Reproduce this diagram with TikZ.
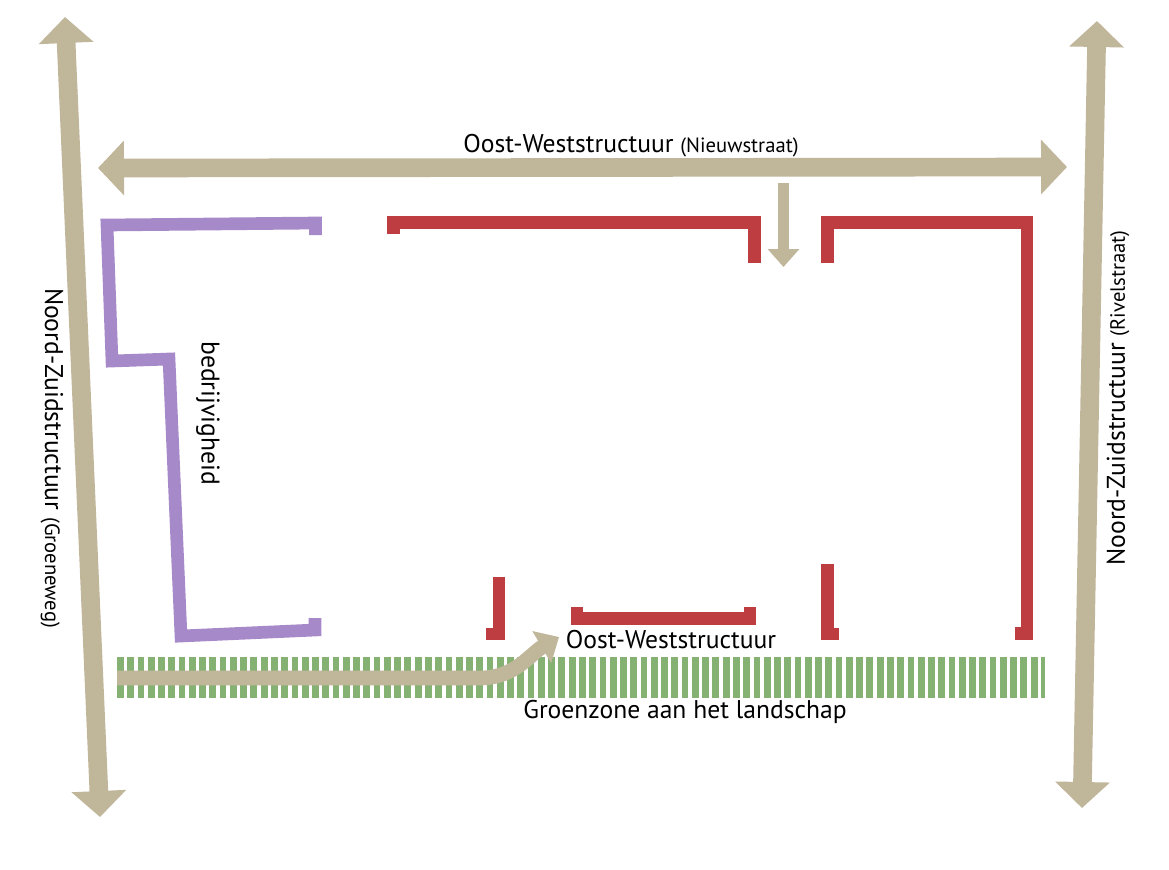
\documentclass[tikz,border=0pt]{standalone}
\usepackage{fontspec}
\setmainfont{PT Sans}
\usetikzlibrary{arrows.meta}
\definecolor{clrweg}{RGB}{192,182,154}
\definecolor{clrwand}{RGB}{190,61,64}
\definecolor{clrbedrijf}{RGB}{166,137,200}
\definecolor{clrgroen}{RGB}{133,177,115}
\newcommand{\paren}[1]{{\fontsize{15.5}{17}\selectfont #1}}

\begin{document}
\begin{tikzpicture}[x=0.75pt,y=0.75pt,yscale=-1,xscale=1,
  hoofdweg/.style={draw=clrweg, line width=14pt, {Triangle[width=40pt,length=19.5pt]}-{Triangle[width=40pt,length=19.5pt]}},
  zijweg/.style={draw=clrweg, line width=8.25pt, -{Triangle[width=23pt,length=13.5pt]}},
  wand/.style={draw=clrwand, line width=9.5pt, miter limit=4},
  bedrijf/.style={draw=clrbedrijf, line width=9.5pt},
  lbl/.style={font=\fontsize{19.2}{21}\selectfont, inner sep=0.75pt}]
\useasboundingbox (0,0) rectangle (1169,869);

%Shape: Green zone
\draw[clrgroen, line width=30.75pt, dash pattern=on 5.1pt off 2.6pt] (117,677.5) -- (1045,677.5);

%Shape: Main roads
\coordinate (nzw-n) at (65,17);
\coordinate (nzw-z) at (100,817);
\coordinate (nzo-n) at (1097,21);
\coordinate (nzo-z) at (1082,808);
\coordinate (ow-w) at (98,168);
\coordinate (ow-o) at (1067,167);
\draw[hoofdweg] (nzw-n) -- (nzw-z);
\draw[hoofdweg] (nzo-n) -- (nzo-z);
\draw[hoofdweg] (ow-w) -- (ow-o);

%Shape: Side roads
\coordinate (toegang-n) at (783.5,183);
\coordinate (toegang-z) at (783.5,267);
\draw[zijweg] (toegang-n) -- (toegang-z);
\coordinate (groenpad-w) at (117,678);
\coordinate (groenpad-o) at (559,637);
\draw[draw=clrweg, line width=11pt, -{Triangle[width=27pt,length=15pt]}] (groenpad-w) -- (480,678) .. controls (515,678) and (530,654) .. (groenpad-o);

%Shape: Walls
\draw[wand] (393.5,234) -- (393.5,222.5) -- (754.5,222.5) -- (754.5,263);
\draw[wand] (827.5,263) -- (827.5,222.5) -- (1027,222.5) -- (1027,633.5) -- (1015,633.5);
\draw[wand] (499,577) -- (499,634) -- (486,634);
\draw[wand] (577,607) -- (577,618.5) -- (750,618.5) -- (750,607);
\draw[wand] (827.5,564) -- (827.5,634) -- (839,634);

%Shape: Bedrijvigheid
\draw[bedrijf] (315.5,235) -- (315.5,223) -- (107,225) -- (112,361) -- (169,359) -- (181,636) -- (315,630) -- (315,618);

% Text Node
\node (owtop) [lbl, anchor=base] at (631,152) {Oost-Weststructuur \paren{(Nieuwstraat)}};
% Text Node
\node (nzwest) [lbl, rotate=-90] at (52,458) {Noord-Zuidstructuur \paren{(Groeneweg)}};
% Text Node
\node (nzoost) [lbl, rotate=90] at (1118,398) {Noord-Zuidstructuur \paren{(Rivelstraat)}};
% Text Node
\node (bedrijfstekst) [lbl, rotate=-90] at (208,413) {bedrijvigheid};
% Text Node
\node (owzuid) [lbl, anchor=base] at (671,648) {Oost-Weststructuur};
% Text Node
\node (groentekst) [lbl, anchor=base] at (685,718) {Groenzone aan het landschap};

\end{tikzpicture}
\end{document}
